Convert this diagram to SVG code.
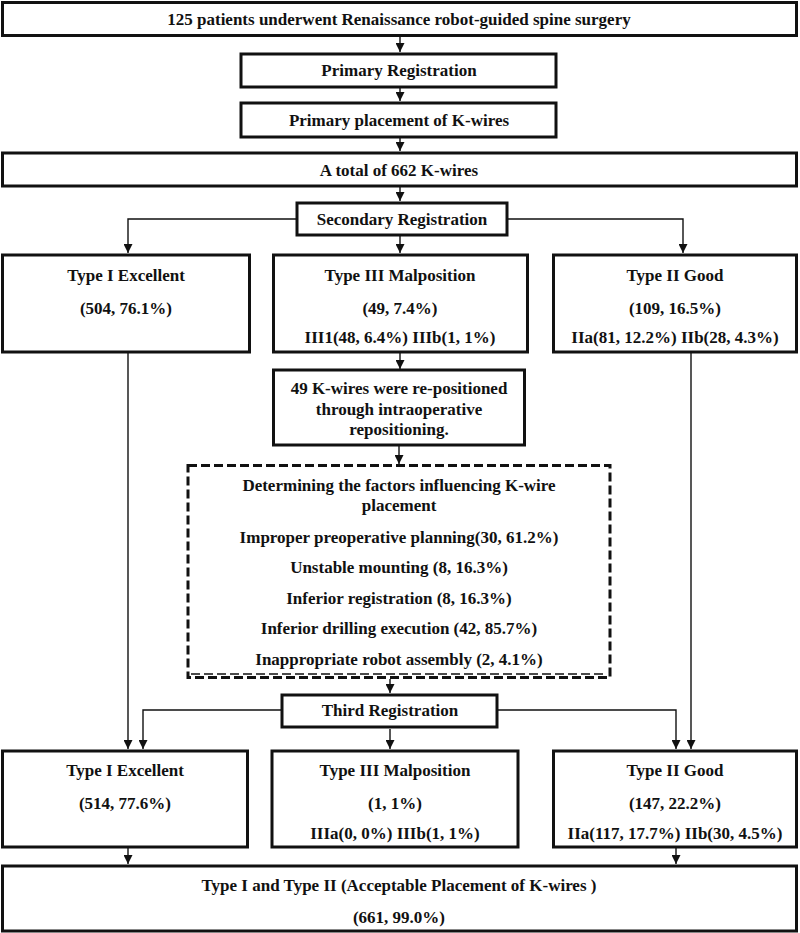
<svg xmlns="http://www.w3.org/2000/svg" width="800" height="933" viewBox="0 0 800 933">
<defs>
<marker id="arr" viewBox="0 0 10 10" refX="10" refY="5" markerWidth="9" markerHeight="9" markerUnits="userSpaceOnUse" orient="auto">
<path d="M0,0 L10,5 L0,10 z" fill="#111"/>
</marker>
<style>
.box{fill:#fff;stroke:#111;stroke-width:3}
.dash{fill:#fff;stroke:#111;stroke-width:3;stroke-dasharray:9 4}
.dash2{fill:none;stroke:#111;stroke-width:1.5;stroke-dasharray:9 4}
.con{fill:none;stroke:#111;stroke-width:1.4;marker-end:url(#arr)}
text{font-family:"Liberation Serif","Times New Roman",serif;font-weight:bold;font-size:17px;fill:#111;text-anchor:middle}
</style>
</defs>
<rect width="800" height="933" fill="#fff"/>
<g id="connectors">
<path class="con" d="M400,37 V52"/>
<path class="con" d="M400,88 V101"/>
<path class="con" d="M400,138 V151"/>
<path class="con" d="M400,187 V201"/>
<path class="con" d="M296,219 H128 V253"/>
<path class="con" d="M508,219 H683 V253"/>
<path class="con" d="M400,236 V253"/>
<path class="con" d="M400,353 V369"/>
<path class="con" d="M399,446 V464"/>
<path class="con" d="M390,679 V693"/>
<path class="con" d="M128,353 V749"/>
<path class="con" d="M691,353 V749"/>
<path class="con" d="M281,710 H143 V749"/>
<path class="con" d="M498,710 H676 V749"/>
<path class="con" d="M390,729 V749"/>
<path class="con" d="M128,848 V864"/>
<path class="con" d="M676,848 V864"/>
</g>
<g id="n1"><rect class="box" x="2.5" y="2.5" width="794" height="33"/><text x="399" y="25">125 patients underwent Renaissance robot-guided spine surgery</text></g>
<g id="n2"><rect class="box" x="241" y="54" width="315" height="33"/><text x="399" y="76">Primary Registration</text></g>
<g id="n3"><rect class="box" x="241" y="103" width="315" height="34"/><text x="399" y="126">Primary placement of K-wires</text></g>
<g id="n4"><rect class="box" x="2.5" y="153" width="794" height="33"/><text x="399" y="176">A total of 662 K-wires</text></g>
<g id="n5"><rect class="box" x="297" y="203" width="210" height="32"/><text x="402" y="225">Secondary Registration</text></g>
<g id="n6"><rect class="box" x="2.5" y="255" width="247" height="97"/><text x="126" y="281">Type I Excellent</text><text x="126" y="314">(504, 76.1%)</text></g>
<g id="n7"><rect class="box" x="273.5" y="255" width="254" height="97"/><text x="400" y="281">Type III Malposition</text><text x="400" y="314">(49, 7.4%)</text><text x="400" y="343">III1(48, 6.4%) IIIb(1, 1%)</text></g>
<g id="n8"><rect class="box" x="553.5" y="255" width="243" height="97"/><text x="675" y="281">Type II Good</text><text x="675" y="314">(109, 16.5%)</text><text x="675" y="343">IIa(81, 12.2%) IIb(28, 4.3%)</text></g>
<g id="n9"><rect class="box" x="273.5" y="370" width="251" height="75"/><text x="399" y="394">49 K-wires were re-positioned</text><text x="399" y="415">through intraoperative</text><text x="399" y="435">repositioning.</text></g>
<g id="n10"><rect class="dash" x="188" y="465.5" width="422" height="212"/><path class="dash2" d="M191,674 H607"/>
<text x="399" y="491">Determining the factors influencing K-wire</text>
<text x="399" y="511">placement</text>
<text x="399" y="543">Improper preoperative planning(30, 61.2%)</text>
<text x="399" y="573">Unstable mounting (8, 16.3%)</text>
<text x="399" y="604">Inferior registration (8, 16.3%)</text>
<text x="399" y="634">Inferior drilling execution (42, 85.7%)</text>
<text x="399" y="665">Inappropriate robot assembly (2, 4.1%)</text></g>
<g id="n11"><rect class="box" x="282" y="695" width="215" height="32"/><text x="390" y="716">Third Registration</text></g>
<g id="n12"><rect class="box" x="2.5" y="751" width="245" height="96"/><text x="125" y="776">Type I Excellent</text><text x="125" y="809">(514, 77.6%)</text></g>
<g id="n13"><rect class="box" x="272" y="751" width="246" height="96"/><text x="395" y="776">Type III Malposition</text><text x="395" y="809">(1, 1%)</text><text x="395" y="839">IIIa(0, 0%) IIIb(1, 1%)</text></g>
<g id="n14"><rect class="box" x="553.5" y="751" width="243" height="96"/><text x="675" y="776">Type II Good</text><text x="675" y="809">(147, 22.2%)</text><text x="675" y="839">IIa(117, 17.7%) IIb(30, 4.5%)</text></g>
<g id="n15"><rect class="box" x="2.5" y="866" width="794" height="65"/><text x="399" y="891">Type I and Type II (Acceptable Placement of K-wires )</text><text x="399" y="923">(661, 99.0%)</text></g>
</svg>
